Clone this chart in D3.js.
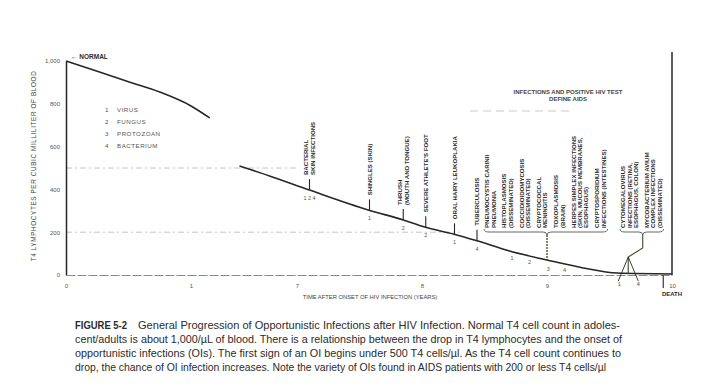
<!DOCTYPE html>
<html>
<head>
<meta charset="utf-8">
<script src="https://cdn.jsdelivr.net/npm/d3@7"></script>
<style>
  body { margin: 0; background: #fff; }
  svg text { font-family: "Liberation Sans", Arial, sans-serif; fill: #2b2b2b; }
</style>
</head>
<body>
<script>
// axis ticks
const yearTicks = [0, 1, 7, 8, 9, 10];
const cellTicks = [0, 200, 400, 600, 800, 1000];

// T4 count curve (the axis is broken between 1 and 7 years)
const earlyYears = [0, 0.25, 0.5, 0.75, 1.0, 1.15];
const earlyCells = [1000, 952, 903, 855, 790, 734];
const lateYears = [6.54, 6.78, 7.1, 7.57, 7.85, 8.02, 8.25, 8.44, 8.7, 9.0, 9.29, 9.56, 10];
const lateCells = [509, 463, 397, 304, 257, 224, 192, 160, 112, 70, 33, 9, 5];

// reference levels
const refLevels = [500, 200];

// opportunistic infections before AIDS
const oiNames = [
  ["BACTERIAL", "SKIN INFECTIONS"],
  ["SHINGLES (SKIN)"],
  ["THRUSH", "(MOUTH AND TONGUE)"],
  ["SEVERE ATHLETE'S FOOT"],
  ["ORAL HAIRY LEUKOPLAKIA"],
  ["TUBERCULOSIS"]
];
const oiYears = [7.1, 7.58, 7.85, 8.03, 8.26, 8.44];
const oiCodes = ["1 2 4", "1", "2", "2", "1", "4"];

// AIDS defining infections
const aidsMiddle = [
  ["PNEUMOCYSTIS CARINII", "PNEUMONIA"],
  ["HISTOPLASMOSIS", "(DISSEMINATED)"],
  ["COCCIDIOIDOMYCOSIS", "(DISSEMINATED)"],
  ["CRYPTOCOCCAL", "MENINGITIS"],
  ["TOXOPLASMOSIS", "(BRAIN)"],
  ["HERPES SIMPLEX INFECTIONS", "(SKIN, MUCOUS MEMBRANES,", "ESOPHAGUS)"],
  ["CRYPTOSPORIDIUM", "INFECTIONS (INTESTINES)"]
];
const aidsLate = [
  ["CYTOMEGALOVIRUS", "INFECTIONS (RETINA,", "ESOPHAGUS, COLON)"],
  ["MYCOBACTERIUM AVIUM", "COMPLEX INFECTIONS", "(DISSEMINATED)"]
];
const aidsMiddleYear = 9.0;
const aidsLateYear = 9.65;
const middleCodeYears = [8.72, 8.86, 9.01, 9.14];
const middleCodes = ["1", "2", "3", "4"];
const lateCodes = ["1", "4"];

const legend = ["VIRUS", "FUNGUS", "PROTOZOAN", "BACTERIUM"];

const caption = [
  "cent/adults is about 1,000/\u00b5L of blood.  There is a relationship between the drop in T4 lymphocytes and the onset of",
  "opportunistic infections (OIs).  The first sign of an OI begins under 500 T4 cells/\u00b5l.  As the T4 cell count continues to",
  "drop, the chance of OI infection increases.  Note the variety of OIs found in AIDS patients with 200 or less T4 cells/\u00b5l"
];

const width = 722, height = 392;
const svg = d3.select("body").append("svg")
  .attr("width", width)
  .attr("height", height);

const x = d3.scaleLinear()
  .domain([0, 1.2, 6.5, 10])
  .range([66, 216, 234.5, 672]);
const y = d3.scaleLinear()
  .domain([0, 1000])
  .range([275, 61]);

const ink = "#262626";

// faint reference lines at 500 and 200
svg.selectAll(".ref")
  .data(refLevels)
  .enter()
  .append("line")
  .attr("x1", x(0))
  .attr("x2", d => d === 500 ? x(7) : x(8.3))
  .attr("y1", d => y(d))
  .attr("y2", d => y(d))
  .attr("stroke", "#b5b5b5")
  .attr("stroke-width", 0.8)
  .attr("stroke-dasharray", "6 3 2 3");

// axes
const yAxis = d3.axisLeft(y).tickValues(cellTicks).tickSize(0).tickPadding(6)
  .tickFormat(d => d === 1000 ? "1,000" : d);
const gy = svg.append("g").attr("transform", `translate(${x(0)},0)`).call(yAxis);
gy.select(".domain").attr("stroke", ink).attr("stroke-width", 1.5);
gy.selectAll("text").style("font-size", "6px").style("fill", "#555");

const xAxis = d3.axisBottom(x).tickValues(yearTicks).tickSize(0).tickPadding(9);
const gx = svg.append("g").attr("transform", `translate(0,${y(0)})`).call(xAxis);
gx.select(".domain").attr("stroke", "#8a8a8a").attr("stroke-width", 1).attr("stroke-dasharray", "9 2");
gx.selectAll("text").style("font-size", "6px").style("fill", "#555");

// right boundary (death)
svg.append("line")
  .attr("x1", x(10)).attr("x2", x(10))
  .attr("y1", 52).attr("y2", y(0))
  .attr("stroke", ink).attr("stroke-width", 1.5);
svg.append("line")
  .attr("x1", x(9.93)).attr("x2", x(9.93))
  .attr("y1", y(0)).attr("y2", y(0) + 13)
  .attr("stroke", "#5a2a20").attr("stroke-width", 1.2);
svg.append("text")
  .attr("x", x(10)).attr("y", y(0) + 21)
  .attr("text-anchor", "middle")
  .style("font-size", "6px").style("font-weight", "bold")
  .text("DEATH");

// axis titles
svg.append("text")
  .attr("transform", `translate(36,${y(500) - 2}) rotate(-90)`)
  .attr("text-anchor", "middle")
  .style("font-size", "6.4px").style("letter-spacing", "0.6px").style("fill", "#444")
  .text("T4 LYMPHOCYTES PER CUBIC MILLILITER OF BLOOD");
svg.append("text")
  .attr("x", x(8) - 52).attr("y", y(0) + 24)
  .attr("text-anchor", "middle")
  .style("font-size", "5.8px").style("fill", "#444")
  .text("TIME AFTER ONSET OF HIV INFECTION (YEARS)");

// curve
const line = d3.line().x(d => x(d[0])).y(d => y(d[1])).curve(d3.curveMonotoneX);
[d3.zip(earlyYears, earlyCells), d3.zip(lateYears, lateCells)].forEach(pts => {
  svg.append("path")
    .attr("d", line(pts))
    .attr("fill", "none")
    .attr("stroke", ink)
    .attr("stroke-width", 1.6);
});

// value on the late curve for a year
const cellsAt = d3.scaleLinear().domain(lateYears).range(lateCells);

// NORMAL marker
svg.append("text")
  .attr("x", x(0) + 5).attr("y", y(1000) - 2)
  .style("font-size", "6.5px").style("font-weight", "bold")
  .text("\u2190 NORMAL");

// legend
const lg = svg.append("g");
legend.forEach((d, i) => {
  lg.append("text").attr("x", 105).attr("y", 112 + i * 12)
    .style("font-size", "6.2px").style("fill", "#555").text(i + 1);
  lg.append("text").attr("x", 117).attr("y", 112 + i * 12)
    .style("font-size", "6.2px").style("fill", "#555").style("letter-spacing", "0.5px").text(d);
});

const fs = 6.1, step = 6.4;

// infections before AIDS
oiNames.forEach((names, i) => {
  const cx = x(oiYears[i]);
  const cy = y(cellsAt(oiYears[i]));
  svg.append("line")
    .attr("x1", cx).attr("x2", cx)
    .attr("y1", cy).attr("y2", cy - 11)
    .attr("stroke", ink).attr("stroke-width", 1.1);
  names.forEach((t, j) => {
    const lx = cx - (names.length - 1) * step / 2 + j * step + fs * 0.36;
    svg.append("text")
      .attr("transform", `translate(${lx},${cy - 15}) rotate(-90)`)
      .style("font-size", fs + "px").style("font-weight", "bold")
      .text(t);
  });
  svg.append("text")
    .attr("x", cx).attr("y", cy + 10)
    .attr("text-anchor", "middle")
    .style("font-size", "5.5px").style("fill", "#555")
    .text(oiCodes[i]);
});

// AIDS title
svg.append("text")
  .attr("x", 568).attr("y", 94)
  .attr("text-anchor", "middle")
  .style("font-size", "6px").style("font-weight", "bold").style("fill", "#444")
  .text("INFECTIONS AND POSITIVE HIV TEST");
svg.append("text")
  .attr("x", 568).attr("y", 101)
  .attr("text-anchor", "middle")
  .style("font-size", "6px").style("font-weight", "bold").style("fill", "#444")
  .text("DEFINE AIDS");
svg.append("line")
  .attr("x1", 470).attr("x2", 570).attr("y1", 111).attr("y2", 111)
  .attr("stroke", "#bbb").attr("stroke-width", 0.8).attr("stroke-dasharray", "8 5");

// AIDS label columns
function drawGroup(groups, startX) {
  let cx = startX;
  const cols = [];
  groups.forEach(names => {
    names.forEach(t => {
      svg.append("text")
        .attr("transform", `translate(${cx + fs * 0.36},228) rotate(-90)`)
        .style("font-size", fs + "px").style("font-weight", "bold")
        .text(t);
      cols.push(cx);
      cx += step;
    });
    cx += 4.5;
  });
  return [cols[0] - 3, cols[cols.length - 1] + 4];
}

function brace(x0, x1, cx, by) {
  return `M${x0},${by - 3} Q${x0},${by} ${x0 + 5},${by} L${cx - 4},${by} Q${cx},${by} ${cx},${by + 3}`
    + ` Q${cx},${by} ${cx + 4},${by} L${x1 - 5},${by} Q${x1},${by} ${x1},${by - 3}`;
}

const mid = drawGroup(aidsMiddle, 487);
const midX = x(aidsMiddleYear);
svg.append("path").attr("d", brace(mid[0], mid[1], midX, 232))
  .attr("fill", "none").attr("stroke", "#555").attr("stroke-width", 0.9);
svg.append("line")
  .attr("x1", midX).attr("x2", midX)
  .attr("y1", 235).attr("y2", y(cellsAt(aidsMiddleYear)))
  .attr("stroke", "#4a2520").attr("stroke-width", 1.2).attr("stroke-dasharray", "2 1");
middleCodes.forEach((c, i) => {
  svg.append("text")
    .attr("x", x(middleCodeYears[i])).attr("y", y(cellsAt(middleCodeYears[i])) + (i === 2 ? 11 : 8))
    .attr("text-anchor", "middle")
    .style("font-size", "5.5px").style("fill", "#555")
    .text(c);
});

const late = drawGroup(aidsLate, 623);
const lateTop = (late[0] + late[1]) / 2 + 1;
svg.append("path").attr("d", brace(late[0], late[1], lateTop, 232))
  .attr("fill", "none").attr("stroke", "#555").attr("stroke-width", 0.9);
const jx = x(aidsLateYear), jy = 257;
svg.append("path")
  .attr("d", `M${lateTop},235 L${lateTop},248 L${jx},${jy} L${jx},${y(0) - 1}`)
  .attr("fill", "none").attr("stroke", "#3a4a2a").attr("stroke-width", 1.1);
svg.append("path")
  .attr("d", `M${jx - 10},${y(0) + 6} L${jx},${jy} L${jx + 10},${y(0) + 6}`)
  .attr("fill", "none").attr("stroke", ink).attr("stroke-width", 0.9);
lateCodes.forEach((c, i) => {
  svg.append("text")
    .attr("x", jx - 9 + i * 19).attr("y", y(0) + 11)
    .attr("text-anchor", "middle")
    .style("font-size", "5.5px").style("fill", "#444")
    .text(c);
});

// caption
const cap = svg.append("g").style("font-family", "\"Liberation Sans Narrow\", \"DejaVu Sans Condensed\", \"Liberation Sans\", sans-serif");
cap.append("text")
  .attr("x", 75).attr("y", 329)
  .attr("textLength", 52).attr("lengthAdjust", "spacingAndGlyphs")
  .style("font-size", "10.5px").style("font-weight", "bold")
  .text("FIGURE 5-2");
cap.append("text")
  .attr("x", 138).attr("y", 329)
  .attr("textLength", 482).attr("lengthAdjust", "spacingAndGlyphs")
  .style("font-size", "10.5px")
  .text("General Progression of Opportunistic Infections after HIV Infection.  Normal T4 cell count in adoles-");
const capEnds = [622, 621, 606];
caption.forEach((t, i) => {
  cap.append("text")
    .attr("x", 75).attr("y", 343 + i * 14)
    .attr("textLength", capEnds[i] - 75).attr("lengthAdjust", "spacingAndGlyphs")
    .style("font-size", "10.5px")
    .text(t);
});
</script>
</body>
</html>
